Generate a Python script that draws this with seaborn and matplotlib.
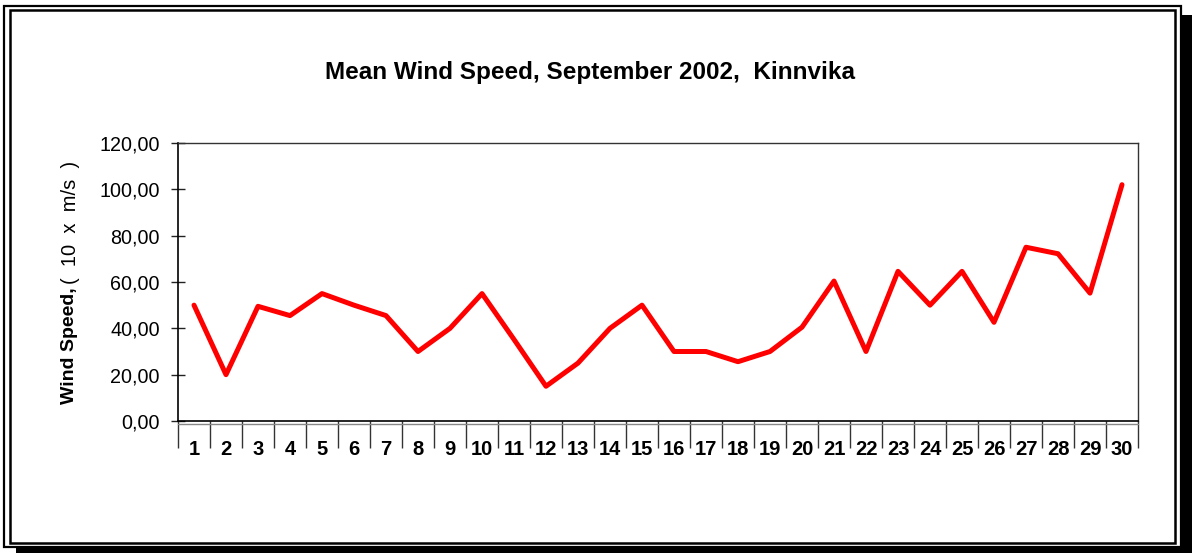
import matplotlib
matplotlib.use("Agg")
import matplotlib.pyplot as plt
import seaborn as sns
from matplotlib.patches import Rectangle
from matplotlib.lines import Line2D
from matplotlib.ticker import FixedLocator

# Data
DAYS = [1, 2, 3, 4, 5, 6, 7, 8, 9, 10, 11, 12, 13, 14, 15,
        16, 17, 18, 19, 20, 21, 22, 23, 24, 25, 26, 27, 28, 29, 30]
WIND_SPEED = [50, 20, 49.5, 45.5, 55, 50, 45.5, 30, 40, 55, 35.2, 15, 25, 40, 50,
              30, 30, 25.6, 30, 40.5, 60.4, 30, 64.6, 50, 64.6, 42.6, 75, 72.2, 55.2, 102]
Y_TICKS = [0, 20, 40, 60, 80, 100, 120]
Y_TICK_LABELS = ["0,00", "20,00", "40,00", "60,00", "80,00", "100,00", "120,00"]

TITLE = "Mean Wind Speed, September 2002,  Kinnvika"

W, H = 1192, 553


def frac(x0, y0, x1, y1):
    # pixel box (top-left origin) -> figure fraction (x, y, w, h)
    return x0 / W, 1 - y1 / H, (x1 - x0) / W, (y1 - y0) / H


sns.set_style("white")
plt.rcParams['font.family'] = ['Liberation Sans', 'DejaVu Sans']
plt.rcParams['text.color'] = 'black'
plt.rcParams['xtick.color'] = 'black'
plt.rcParams['ytick.color'] = 'black'

fig = plt.figure(figsize=(W / 100, H / 100), dpi=100)

# Frame: shadow, outer line, inner line
x, y, w, h = frac(16, 15, W + 5, H + 5)
fig.patches.append(Rectangle((x, y), w, h, transform=fig.transFigure,
                             facecolor="black", edgecolor="none", zorder=0))
x, y, w, h = frac(4, 6, 1181, 547)
fig.patches.append(Rectangle((x, y), w, h, transform=fig.transFigure,
                             facecolor="white", edgecolor="black", lw=1.6, zorder=1))
x, y, w, h = frac(10, 10, 1175, 543)
fig.patches.append(Rectangle((x, y), w, h, transform=fig.transFigure,
                             facecolor="white", edgecolor="black", lw=1.8, zorder=2))

ax = fig.add_axes(frac(178, 143, 1138, 421))
ax.set_zorder(3)

sns.lineplot(x=DAYS, y=WIND_SPEED, ax=ax, color="#ff0000", linewidth=3.6)

ax.set_xlim(0.5, 30.5)
ax.set_ylim(0, 120)

# y axis
ax.set_yticks(Y_TICKS)
ax.set_yticklabels(Y_TICK_LABELS, fontsize=14.2)
ax.tick_params(axis="y", direction="inout", length=10, width=1, color="#222222",
               pad=8, left=True, labelcolor="black")

# x axis: labels centred in categories, tick marks on category boundaries
ax.set_xticks(DAYS)
ax.set_xticklabels([str(d) for d in DAYS], fontsize=14.5, fontweight="bold")
ax.tick_params(axis="x", which="major", length=0, pad=14, labelcolor="black")
ax.xaxis.set_minor_locator(FixedLocator([d - 0.5 for d in DAYS] + [DAYS[-1] + 0.5]))
ax.tick_params(axis="x", which="minor", direction="out", length=19.5, width=1,
               color="#333333", bottom=True)

for side in ["left", "bottom"]:
    ax.spines[side].set_color("black")
    ax.spines[side].set_linewidth(1.2)
for side in ["top", "right"]:
    ax.spines[side].set_color("#333333")
    ax.spines[side].set_linewidth(1.0)

# second (gray) line under the category axis
ax.add_line(Line2D([0, 1], [-2.5 / 278, -2.5 / 278], transform=ax.transAxes,
                   color="#888888", lw=1, clip_on=False))

ax.set_xlabel("")
ax.set_ylabel("")

fig.text(590 / W, 1 - 72 / H, TITLE, ha="center", va="center",
         fontsize=17.5, fontweight="bold", color="black")

# y label, bold part then regular part
t1 = fig.text(70 / W, 1 - 404 / H, "Wind Speed,", rotation=90, ha="center", va="bottom",
              fontsize=14, fontweight="bold", color="black",
              family=["Liberation Sans Narrow", "Liberation Sans", "DejaVu Sans"])
ax.annotate("(  10  x  m/s  )", xy=(0.5, 1), xycoords=t1, xytext=(0, 2),
            textcoords="offset points", rotation=90, ha="center", va="bottom",
            fontsize=14.5, color="black",
            family=["Liberation Sans Narrow", "Liberation Sans", "DejaVu Sans"],
            annotation_clip=False)

fig.savefig("out.png", dpi=100)
plt.close(fig)
